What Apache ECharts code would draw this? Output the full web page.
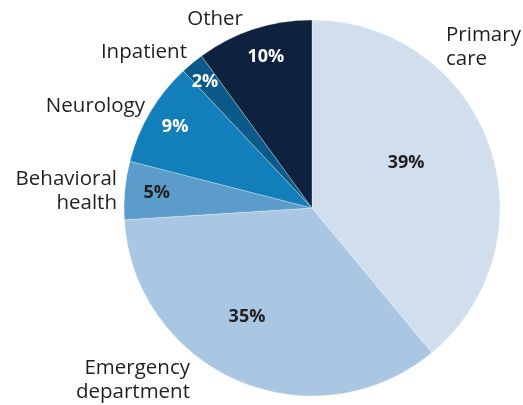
<!DOCTYPE html>
<html lang="en">
<head>
    <meta charset="UTF-8">
    <title>Visit settings</title>
    <script src="https://cdn.jsdelivr.net/npm/echarts@6/dist/echarts.min.js"></script>
    <style>
html, body { margin:0; padding:0; background:#fff; }
#main { width:523px; height:405px; }
    </style>
</head>
<body>
<div id="main"></div>
<script type="text/javascript">
    // data
    var categories = ['Primary\ncare', 'Emergency\ndepartment', 'Behavioral\nhealth', 'Neurology', 'Inpatient', 'Other'];
    var shares = [39, 35, 5, 9, 2, 10];

    var colors = ['#d0deee', '#a9c7e3', '#5b9ccb', '#127fba', '#0b5a8a', '#0d223f'];
    var pctColors = ['#231f20', '#231f20', '#231f20', '#fff', '#fff', '#fff'];
    // % label placement: fraction of radius, and nudge from mid angle (deg)
    var pctRadius = [0.555, 0.675, 0.83, 0.846, 0.88, 0.84];
    var pctNudge = [-5.8, 7.4, 0, 0, -0.7, 1];
    // where the category names sit
    var namePos = [
        [446, 47, 'left'],
        [190, 380, 'right'],
        [117, 191, 'right'],
        [145, 106, 'right'],
        [187, 52, 'right'],
        [243, 19, 'right']
    ];

    var cx = 312, cy = 208, R = 188;

    var total = shares.reduce(function (a, b) { return a + b; }, 0);
    var midAngle = [], acc = 0;
    shares.forEach(function (v) {
        midAngle.push((acc + v / 2) / total * 360);   // clockwise from top
        acc += v;
    });

    var pieData = categories.map(function (c, i) {
        return {
            name: c,
            value: shares[i],
            itemStyle: {color: colors[i]},
            label: {color: pctColors[i]}
        };
    });

    var chart = echarts.init(document.getElementById('main'));
    chart.setOption({
        animation: false,
        series: [{
            type: 'pie',
            center: [cx, cy],
            radius: [0, R],
            startAngle: 90,
            clockwise: true,
            data: pieData,
            itemStyle: {borderColor: 'rgba(255,255,255,0.5)', borderWidth: 0.6},
            label: {
                position: 'inside',
                formatter: '{c}%',
                fontFamily: 'Open Sans',
                fontWeight: 'bold',
                fontSize: 18
            },
            labelLine: {show: false},
            labelLayout: function (p) {
                var i = p.dataIndex;
                var a = (midAngle[i] + pctNudge[i]) * Math.PI / 180;
                var d = pctRadius[i] * R;
                return {
                    x: cx + Math.sin(a) * d,
                    y: cy - Math.cos(a) * d,
                    align: 'center',
                    verticalAlign: 'middle'
                };
            }
        }, {
            // name labels only
            type: 'pie',
            center: [cx, cy],
            radius: [0, R],
            startAngle: 90,
            silent: true,
            data: categories.map(function (c, i) {
                return {name: c, value: shares[i]};
            }),
            itemStyle: {color: 'rgba(0,0,0,0)'},
            label: {
                position: 'outside',
                formatter: '{b}',
                fontFamily: 'Open Sans',
                fontSize: 20.5,
                lineHeight: 24,
                color: '#231f20',
                overflow: 'none'
            },
            labelLine: {show: false},
            labelLayout: function (p) {
                var pos = namePos[p.dataIndex];
                return {x: pos[0], y: pos[1], align: pos[2], verticalAlign: 'middle'};
            }
        }]
    });
</script>
</body>
</html>
